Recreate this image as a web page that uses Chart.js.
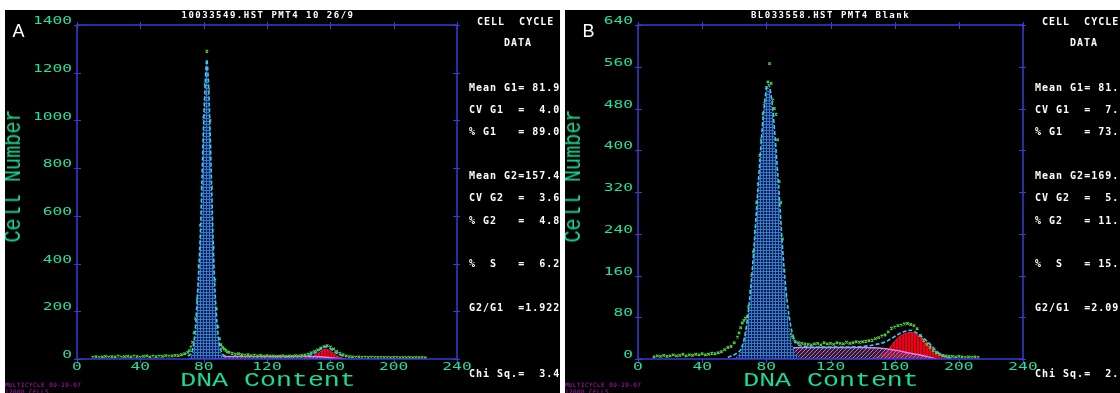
<!DOCTYPE html>
<html>
<head>
<meta charset="utf-8">
<script src="https://cdn.jsdelivr.net/npm/chart.js@4.4.0/dist/chart.umd.min.js"></script>
<style>
  html, body { margin: 0; padding: 0; background: #fff; }
  body { width: 1120px; height: 393px; position: relative; overflow: hidden; }
  .panel { position: absolute; top: 10px; width: 555px; height: 383px; background: #000; overflow: hidden; }
  #pa { left: 5px; }
  #pb { left: 565px; }
  .panel canvas { position: absolute; left: 0; top: 0; }
  .t { position: absolute; white-space: pre; color: #fff; font-family: "DejaVu Sans Mono", monospace;
       font-weight: bold; font-size: 10px; line-height: 10px; letter-spacing: 1px; }
  .hdr { font-size: 9px; line-height: 9px; letter-spacing: 1.5px; transform: translateX(-50%); }
  .letter { position: absolute; color: #fff; font-family: "Liberation Sans", Arial, sans-serif; font-size: 18px; line-height: 18px; }
  .axt { position: absolute; white-space: pre; color: #18dc98; font-family: "Liberation Mono", monospace;
         line-height: 1; }
  .foot { position: absolute; left: 0; white-space: pre; color: #c414c8; font-family: "DejaVu Sans Mono", monospace;
          font-size: 6px; line-height: 6px; letter-spacing: 0.4px; }
</style>
</head>
<body>

<div class="panel" id="pa">
  <canvas id="chartA" width="555" height="383"></canvas>
  <div class="t hdr" style="left:263px; top:0.5px;">10033549.HST PMT4 10 26/9</div>
  <div class="letter" style="left:7.5px; top:11.5px;">A</div>
  <div class="axt" style="left:9px; top:166px; font-size:24px; transform: translate(-50%,-50%) rotate(-90deg) scaleX(0.84);">Cell Number</div>
  <div class="axt" style="left:263px; top:371px; font-size:20px; transform: translate(-50%,-50%) scaleX(1.33);">DNA Content</div>
  <div class="t" style="left:472px; top:6.7px;">CELL  CYCLE</div>
  <div class="t" style="left:499px; top:28.3px;">DATA</div>
  <div class="t" style="left:464px; top:73px;">Mean G1= 81.9</div>
  <div class="t" style="left:464px; top:94.7px;">CV G1  =  4.0</div>
  <div class="t" style="left:464px; top:116.7px;">% G1   = 89.0</div>
  <div class="t" style="left:464px; top:160.8px;">Mean G2=157.4</div>
  <div class="t" style="left:464px; top:183px;">CV G2  =  3.6</div>
  <div class="t" style="left:464px; top:205.7px;">% G2   =  4.8</div>
  <div class="t" style="left:464px; top:249.3px;">%  S   =  6.2</div>
  <div class="t" style="left:464px; top:292.7px;">G2/G1  =1.922</div>
  <div class="t" style="left:464px; top:359px;">Chi Sq.=  3.4</div>
  <div class="foot" style="top:372px;">MULTICYCLE 09-29-07</div>
  <div class="foot" style="top:378.5px;">12000 CELLS</div>
</div>

<div class="panel" id="pb">
  <canvas id="chartB" width="555" height="383"></canvas>
  <div class="t hdr" style="left:265.5px; top:0.5px;">BL033558.HST PMT4 Blank</div>
  <div class="letter" style="left:17.5px; top:11.5px;">B</div>
  <div class="axt" style="left:9px; top:166px; font-size:24px; transform: translate(-50%,-50%) rotate(-90deg) scaleX(0.84);">Cell Number</div>
  <div class="axt" style="left:266px; top:371px; font-size:20px; transform: translate(-50%,-50%) scaleX(1.33);">DNA Content</div>
  <div class="t" style="left:477px; top:6.7px;">CELL  CYCLE</div>
  <div class="t" style="left:505px; top:28.3px;">DATA</div>
  <div class="t" style="left:470px; top:73px;">Mean G1= 81.</div>
  <div class="t" style="left:470px; top:94.7px;">CV G1  =  7.</div>
  <div class="t" style="left:470px; top:116.7px;">% G1   = 73.</div>
  <div class="t" style="left:470px; top:160.8px;">Mean G2=169.</div>
  <div class="t" style="left:470px; top:183px;">CV G2  =  5.</div>
  <div class="t" style="left:470px; top:205.7px;">% G2   = 11.</div>
  <div class="t" style="left:470px; top:249.3px;">%  S   = 15.</div>
  <div class="t" style="left:470px; top:292.7px;">G2/G1  =2.09</div>
  <div class="t" style="left:470px; top:359px;">Chi Sq.=  2.</div>
  <div class="foot" style="top:372px;">MULTICYCLE 09-29-07</div>
  <div class="foot" style="top:378.5px;">12000 CELLS</div>
</div>

<script>
// --- tick labels ---
const xTicks = [0, 40, 80, 120, 160, 200, 240];
const yTicksA = [0, 200, 400, 600, 800, 1000, 1200, 1400];
const yTicksB = [0, 80, 160, 240, 320, 400, 480, 560, 640];

// --- panel A: raw histogram (channel, count) ---
const rawChA = [10,12,14,16,18,20,22,24,26,28,30,32,34,36,38,40,42,44,46,48,50,52,54,56,58,60,62,64,66,68,70,
  71,72,73,74,75,76,77,78,79,80,81,82,83,84,85,86,87,88,89,90,91,92,93,94,95,
  96,98,100,102,104,106,108,110,112,114,116,118,120,122,124,126,128,130,132,134,136,138,140,142,144,146,148,150,
  152,154,156,158,160,162,164,166,168,170,172,174,176,178,180,182,184,186,188,190,192,194,196,198,200,202,204,206,
  208,210,212,214,216,218,220];
const rawA = [8,10,7,9,11,8,10,9,12,8,10,11,9,12,10,8,11,13,9,12,10,12,11,14,12,13,15,14,18,22,28,
  35,50,70,110,170,250,390,560,720,1010,1150,1290,1130,1000,720,470,330,210,135,85,60,48,42,36,30,
  28,24,20,22,18,16,18,14,16,13,15,12,14,12,13,11,12,14,11,13,12,14,13,15,17,20,26,32,38,46,
  52,56,50,42,32,24,18,13,10,9,8,9,7,8,6,8,7,6,7,6,7,5,6,7,5,6,5,6,5,6,5,6,5];

// panel A model components
const fitChA = [70,72,73,74,75,76,77,78,79,80,81,82,83,84,85,86,87,88,89,90,91,92,94,120,146,150,154,157,160,164,168,170];
const fitA = [12,22,40,80,150,260,390,540,770,990,1160,1255,1160,970,730,490,310,190,110,65,35,20,12,null,13,24,42,52,43,24,13,10];
const g1ChA = [70,71,72,73,74,75,76,77,78,79,80,81,82,83,84,85,86,87,88,89,90,91,92,93,94];
const g1A = [0,5,12,30,70,140,250,380,530,760,980,1150,1245,1150,960,720,480,300,180,100,55,25,10,4,0];
const sChA = [76,80,84,90,100,110,120,130,140,150,156,162,168];
const sA = [0,5,9,10,10,10,10,10,10,10,8,4,0];
const g2ChA = [144,146,148,150,152,154,156,157,158,160,162,164,166,168,170];
const g2A = [0,3,8,14,22,32,40,42,40,33,24,14,7,3,0];

// --- panel B: raw histogram ---
const rawChB = [10,12,14,16,18,20,22,24,26,28,30,32,34,36,38,40,42,44,46,48,50,52,54,56,58,60,
  62,63,64,65,66,67,68,69,70,71,72,73,74,75,76,77,78,79,80,81,82,83,84,85,86,87,88,89,90,91,92,93,94,95,96,97,98,
  100,102,104,106,108,110,112,114,116,118,120,122,124,126,128,130,132,134,136,138,140,142,144,146,148,150,
  152,154,156,158,160,162,164,166,168,170,172,174,176,178,180,182,184,186,188,190,192,194,196,198,200,202,204,
  206,208,210,212];
const rawB = [4,6,5,7,5,6,8,6,7,9,6,8,7,9,8,10,8,9,11,10,12,14,18,22,24,31,
  42,50,60,69,74,78,81,100,130,160,205,245,300,335,390,420,470,490,520,531,566,528,496,480,469,420,340,300,230,170,
  120,80,55,48,42,38,33,
  31,30,29,28,27,29,30,27,31,29,30,28,31,30,29,32,30,31,33,32,33,34,35,36,39,41,44,46,52,59,
  61,64,65,67,68,66,64,58,45,36,28,22,16,12,9,7,6,5,5,4,5,4,3,4,3,4,3];

// panel B model components
const fitChB = [56,60,62,64,66,68,70,72,74,76,78,80,81,82,84,86,88,90,92,94,96,98,100,105,110,120,130,140,145,150,
  155,160,164,168,170,172,176,180,184,188,192,196];
const fitB = [3,8,12,18,36,72,127,202,292,382,464,516,526,522,480,402,316,218,140,86,52,34,27,24,23,23,23,24,26,29,
  34,43,50,54,55,53,45,35,22,10,4,1];
const g1ChB = [56,60,62,64,66,68,70,72,74,76,78,80,81,82,84,86,88,90,92,94,96,98,100,102];
const g1B = [0,2,6,15,35,70,125,200,290,380,460,510,520,515,470,390,300,200,120,65,30,12,4,0];
const sChB = [68,72,76,80,84,88,92,100,110,120,130,140,150,160,170,180,186];
const sB = [0,2,6,12,17,20,21,22,22,22,22,22,21,17,11,5,0];
const g2ChB = [144,148,152,156,160,164,168,170,172,176,180,184,188,192,196];
const g2B = [0,2,8,18,34,45,50,51,50,42,33,20,9,3,0];

const AXIS = '#3b3bd6';
const TICK_GREEN = '#22e0a2';

function makePattern(w, h, draw) {
  const c = document.createElement('canvas');
  c.width = w; c.height = h;
  const g = c.getContext('2d');
  draw(g);
  return g.createPattern(c, 'repeat');
}

// blue grid fill for G1
const g1Fill = makePattern(3, 3, g => {
  g.fillStyle = '#0a1a4a'; g.fillRect(0, 0, 3, 3);
  g.fillStyle = '#3479c8'; g.fillRect(0, 0, 3, 1); g.fillRect(0, 0, 1, 3);
});
// red vertical stripes for G2
const g2Fill = makePattern(3, 1, g => {
  g.fillStyle = '#f00018'; g.fillRect(0, 0, 3, 1);
  g.fillStyle = '#8a0010'; g.fillRect(0, 0, 1, 1);
});
// purple hatch for S phase
const sFill = makePattern(4, 4, g => {
  g.fillStyle = 'rgba(90,50,95,0.55)'; g.fillRect(0, 0, 4, 4);
  g.fillStyle = '#b070c0';
  g.fillRect(3, 0, 1, 1); g.fillRect(2, 1, 1, 1); g.fillRect(1, 2, 1, 1); g.fillRect(0, 3, 1, 1);
});

const pts = (xs, ys) => xs.map((x, i) => ({ x: x, y: ys[i] }));

function wideText(ctx, text, x, y, align) {
  ctx.save();
  ctx.translate(x, y);
  ctx.scale(1.62, 1);
  ctx.textAlign = align;
  ctx.fillText(text, 0, 0);
  ctx.restore();
}

// box frame, crossing tick marks and the green tick labels
const framePlugin = {
  id: 'frame',
  afterDraw(chart, args, opts) {
    const { ctx, chartArea: a } = chart;
    const x = chart.scales.x, y = chart.scales.y;
    ctx.save();
    ctx.strokeStyle = AXIS;
    ctx.lineWidth = 1.5;
    ctx.strokeRect(a.left, a.top, a.right - a.left, a.bottom - a.top);
    ctx.lineWidth = 1;
    ctx.beginPath();
    opts.yTicks.forEach(v => {
      const py = Math.round(y.getPixelForValue(v)) + 0.5;
      ctx.moveTo(a.left - 3, py); ctx.lineTo(a.left + 4, py);
      ctx.moveTo(a.right - 4, py); ctx.lineTo(a.right + 3, py);
    });
    xTicks.forEach(v => {
      const px = Math.round(x.getPixelForValue(v)) + 0.5;
      ctx.moveTo(px, a.top - 3); ctx.lineTo(px, a.top + 4);
      ctx.moveTo(px, a.bottom); ctx.lineTo(px, a.bottom + 4);
    });
    ctx.stroke();

    ctx.fillStyle = TICK_GREEN;
    ctx.font = '10px "DejaVu Sans Mono"';
    ctx.textBaseline = 'alphabetic';
    opts.yTicks.forEach(v => {
      wideText(ctx, String(v), a.left - 5, y.getPixelForValue(v) - 0.9, 'right');
    });
    xTicks.forEach(v => {
      wideText(ctx, String(v), x.getPixelForValue(v), a.bottom + 10.6, 'center');
    });
    ctx.restore();
  }
};

function buildChart(id, d) {
  return new Chart(document.getElementById(id), {
    type: 'line',
    data: {
      datasets: [
        { label: 'Fit', data: pts(d.fitCh, d.fit), borderColor: '#3cc6f5', borderWidth: 1.6,
          borderDash: [4, 2], pointRadius: 0, fill: false, spanGaps: false,
          cubicInterpolationMode: 'monotone', order: 1 },
        { label: 'G1', data: pts(d.g1Ch, d.g1), backgroundColor: g1Fill, borderWidth: 0,
          pointRadius: 0, fill: 'origin', cubicInterpolationMode: 'monotone', order: 2 },
        { label: 'Data', data: pts(d.rawCh, d.raw), showLine: false, pointStyle: 'crossRot',
          pointRadius: 1.8, pointBorderColor: '#4fd040', pointBorderWidth: 1.2, order: 3 },
        { label: 'S', data: pts(d.sCh, d.s), backgroundColor: sFill, borderColor: '#e080f0',
          borderWidth: 1.5, pointRadius: 0, fill: 'origin', cubicInterpolationMode: 'monotone', order: 4 },
        { label: 'G2', data: pts(d.g2Ch, d.g2), backgroundColor: g2Fill, borderColor: '#ff2030',
          borderWidth: 1, pointRadius: 0, fill: 'origin', cubicInterpolationMode: 'monotone', order: 5 }
      ]
    },
    options: {
      responsive: false,
      animation: false,
      events: [],
      layout: { autoPadding: false, padding: d.pad },
      scales: {
        x: { type: 'linear', min: 0, max: 240, display: false },
        y: { type: 'linear', min: 0, max: d.yTicks[d.yTicks.length - 1], display: false }
      },
      plugins: {
        legend: { display: false },
        tooltip: { enabled: false },
        frame: { yTicks: d.yTicks }
      }
    },
    plugins: [framePlugin]
  });
}

buildChart('chartA', {
  rawCh: rawChA, raw: rawA, fitCh: fitChA, fit: fitA, g1Ch: g1ChA, g1: g1A,
  sCh: sChA, s: sA, g2Ch: g2ChA, g2: g2A, yTicks: yTicksA,
  pad: { left: 72, top: 15, right: 103, bottom: 34 }
});
buildChart('chartB', {
  rawCh: rawChB, raw: rawB, fitCh: fitChB, fit: fitB, g1Ch: g1ChB, g1: g1B,
  sCh: sChB, s: sB, g2Ch: g2ChB, g2: g2B, yTicks: yTicksB,
  pad: { left: 73, top: 15, right: 97, bottom: 34 }
});
</script>
</body>
</html>
